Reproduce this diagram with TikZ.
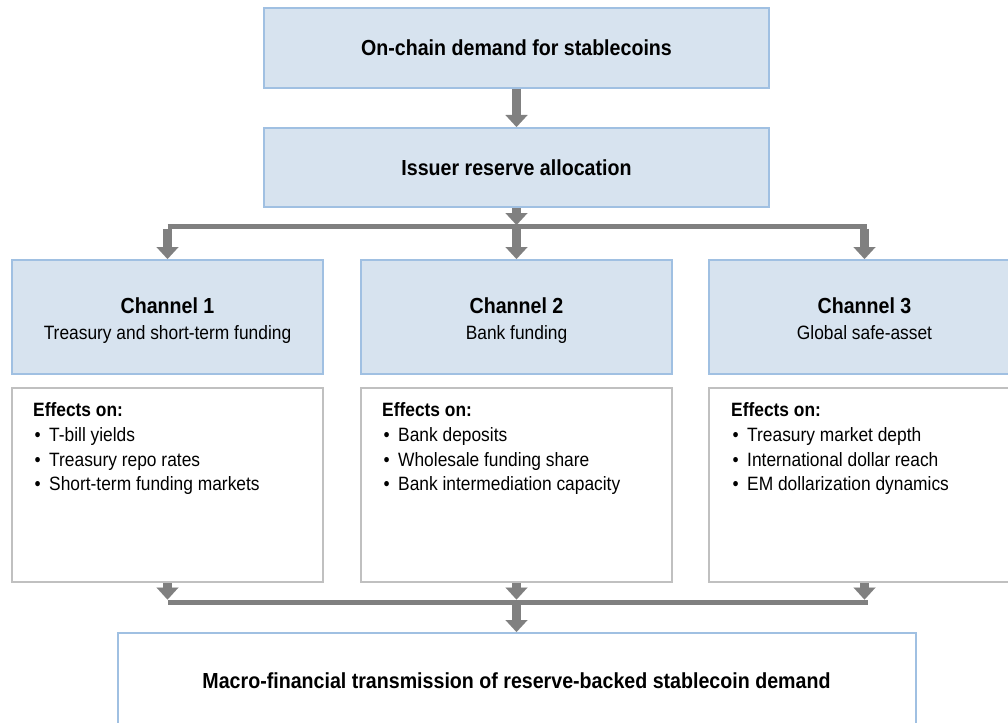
\documentclass[tikz,border=0pt]{standalone}
\usepackage{fontspec}
\setmainfont{Liberation Sans}[FakeStretch=0.9]
\usetikzlibrary{arrows.meta}
\definecolor{boxfill}{RGB}{215,227,239}
\definecolor{boxline}{RGB}{160,192,226}
\definecolor{effline}{RGB}{192,192,192}
\definecolor{flowgray}{RGB}{128,128,128}
\newcommand{\bul}{\makebox[16pt][l]{\hspace{1.5pt}\textbullet}}
\tikzset{
  stagebox/.style={draw=boxline, line width=2pt, fill=boxfill, inner sep=0pt,
    font=\bfseries\fontsize{21.8}{26}\selectfont},
  chanbox/.style={draw=boxline, line width=2pt, fill=boxfill, inner sep=0pt,
    minimum width=311pt, minimum height=114pt},
  effbox/.style={draw=effline, line width=2pt, fill=white, inner sep=0pt,
    minimum width=311pt, minimum height=194pt},
  resultbox/.style={draw=boxline, line width=2pt, fill=white, inner sep=0pt,
    minimum width=798pt, minimum height=96pt,
    font=\bfseries\fontsize{21.8}{26}\selectfont},
  chantitle/.style={inner sep=0pt, anchor=base, font=\bfseries\fontsize{21.8}{26}\selectfont},
  chansub/.style={inner sep=0pt, anchor=base, font=\fontsize{19.3}{24.8}\selectfont},
  efflist/.style={inner sep=0pt, anchor=north west, align=left,
    font=\fontsize{19.3}{24.8}\selectfont},
  blockarrow/.style={draw=flowgray, line width=9pt,
    -{Triangle[width=22pt,length=12pt,line width=0.01pt]}},
  flowbar/.style={draw=flowgray, line width=5pt}
}
\begin{document}
\begin{tikzpicture}[x=1pt,y=-1pt]
\useasboundingbox (0,0) rectangle (1008,722);
\clip (0,0) rectangle (1008,722);

% upper stages
\node[stagebox, minimum width=505pt, minimum height=80pt] (demand) at (516.5,48) {On-chain demand for stablecoins};
\node[stagebox, minimum width=505pt, minimum height=79pt] (issuer) at (516.5,167.5) {Issuer reserve allocation};

% channel headers
\node[chanbox] (ch1) at (167.5,317) {};
\node[chanbox] (ch2) at (516.5,317) {};
\node[chanbox] (ch3) at (864.5,317) {};
\node[chantitle] (ch1t) at (167.5,313.3) {Channel 1};
\node[chansub]   (ch1s) at (167.5,339.3) {Treasury and short-term funding};
\node[chantitle] (ch2t) at (516.5,313.3) {Channel 2};
\node[chansub]   (ch2s) at (516.5,339.3) {Bank funding};
\node[chantitle] (ch3t) at (864.5,313.3) {Channel 3};
\node[chansub]   (ch3s) at (864.5,339.3) {Global safe-asset};

% effect boxes
\node[effbox] (eff1) at (167.5,485) {};
\node[effbox] (eff2) at (516.5,485) {};
\node[effbox] (eff3) at (864.5,485) {};
\node[efflist] (eff1t) at (33,402.4) {\textbf{Effects on:}\\\bul T-bill yields\\\bul Treasury repo rates\\\bul Short-term funding markets};
\node[efflist] (eff2t) at (382,402.4) {\textbf{Effects on:}\\\bul Bank deposits\\\bul Wholesale funding share\\\bul Bank intermediation capacity};
\node[efflist] (eff3t) at (731,402.4) {\textbf{Effects on:}\\\bul Treasury market depth\\\bul International dollar reach\\\bul EM dollarization dynamics};

% final outcome
\node[resultbox] (macro) at (516.5,681) {Macro-financial transmission of reserve-backed stablecoin demand};

% splitting bar below the issuer
\coordinate (splitL) at (167.5,226.5);
\coordinate (splitM) at (516.5,225);
\coordinate (splitR) at (866.5,226.5);
\coordinate (drop1) at (167.5,228.5);
\coordinate (drop2) at (516.5,228.5);
\coordinate (drop3) at (864.5,228.5);

% merging bar above the outcome
\coordinate (joinL) at (167.5,602);
\coordinate (joinR) at (868,602);
\coordinate (in1) at (167.5,599.5);
\coordinate (in2) at (516.5,599.5);
\coordinate (in3) at (864.5,599.5);
\coordinate (joinM) at (516.5,603);

\draw[blockarrow] (demand) -- (issuer);
\draw[blockarrow] (issuer) -- (splitM);
\draw[flowbar] (splitL) -- (splitR);
\draw[blockarrow] (drop1) -- (ch1);
\draw[blockarrow] (drop2) -- (ch2);
\draw[blockarrow] (drop3) -- (ch3);

\draw[blockarrow] (eff1) -- (in1);
\draw[blockarrow] (eff2) -- (in2);
\draw[blockarrow] (eff3) -- (in3);
\draw[flowbar] (joinL) -- (joinR);
\draw[blockarrow] (joinM) -- (macro);
\end{tikzpicture}
\end{document}
